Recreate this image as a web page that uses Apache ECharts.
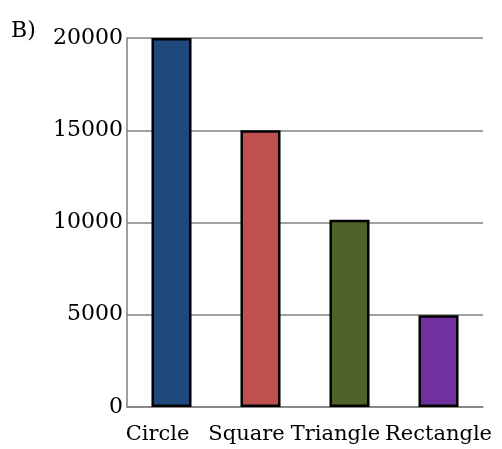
<!DOCTYPE html>
<html><head><meta charset="utf-8">
<script src="https://cdn.jsdelivr.net/npm/echarts@6/dist/echarts.min.js"></script>
<style>html,body{margin:0;padding:0;background:#fff}#c{width:502px;height:449px}</style>
</head><body><div id="c"></div>
<script>
const categories = ['Circle', 'Square', 'Triangle', 'Rectangle'];
const values = [20000, 15000, 10150, 4970];
const colors = ['#1F497D', '#C0504D', '#4F6228', '#7030A0'];
const yTicks = [0, 5000, 10000, 15000, 20000];
const panelLabel = 'B)';

const chart = echarts.init(document.getElementById('c'));
chart.setOption({
  animation: false,
  grid: { left: 127, right: 19, top: 38, bottom: 42 },
  graphic: [{ type: 'text', left: 11, top: 20, style: { text: panelLabel, font: '22px "DejaVu Serif"', fill: '#000' } }],
  xAxis: {
    type: 'category', data: categories,
    axisLine: { lineStyle: { color: '#808080', width: 1.5 } },
    axisTick: { show: false },
    axisLabel: {
      fontFamily: 'DejaVu Serif', fontSize: 21, color: '#000', margin: 17, interval: 0,
      formatter: (v) => v === 'Rectangle' ? '{b|' + v + '}' : '{a|' + v + '}',
      rich: {
        a: { fontFamily: 'DejaVu Serif', fontSize: 21, color: '#000', padding: [0, 28, 0, 0] },
        b: { fontFamily: 'DejaVu Serif', fontSize: 21, color: '#000', padding: [0, 0, 0, 0] }
      }
    }
  },
  yAxis: {
    type: 'value', min: yTicks[0], max: yTicks[yTicks.length - 1], interval: 5000,
    axisLine: { show: true, lineStyle: { color: '#808080', width: 1.5 } },
    axisTick: { show: false },
    splitLine: { lineStyle: { color: '#808080', width: 1.5 } },
    axisLabel: { fontFamily: 'DejaVu Serif', fontSize: 22, color: '#000', margin: 4, formatter: (v) => String(v) }
  },
  series: [{
    type: 'bar', barWidth: '45%',
    data: values.map((v, i) => ({ value: v, itemStyle: { color: colors[i] } })),
    itemStyle: { borderColor: '#000', borderWidth: 2.5 }
  }]
});
</script></body></html>
